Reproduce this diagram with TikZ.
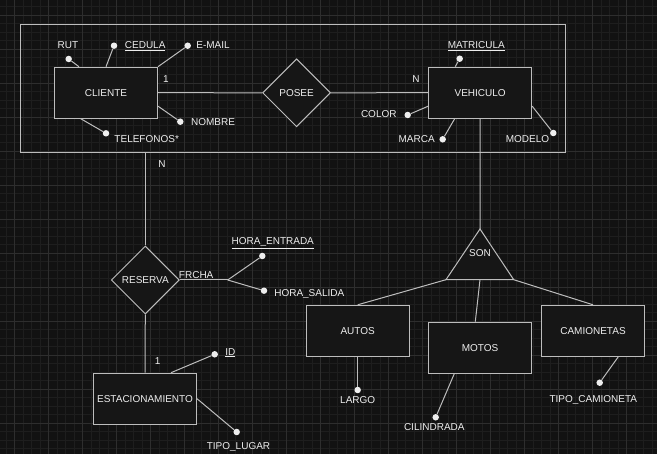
\documentclass[tikz,border=0pt]{standalone}
\usepackage{fontspec}
\setmainfont{Liberation Sans}
\usetikzlibrary{shapes.geometric}
\definecolor{bgc}{HTML}{121212}
\definecolor{gmin}{HTML}{1E1E1E}
\definecolor{gmaj}{HTML}{2E2E2E}
\definecolor{lc}{HTML}{BDBDBD}
\definecolor{tc}{HTML}{EEEEEE}
\definecolor{nf}{HTML}{161616}
\begin{document}
\begin{tikzpicture}[x=1pt,y=-1pt, font=\fontsize{10}{12}\selectfont,
 ent/.style={draw=lc, line width=1pt, fill=nf, text=tc, minimum width=103pt, minimum height=51pt, inner sep=0pt},
 rel/.style={draw=lc, line width=1pt, fill=nf, text=tc, diamond, minimum width=68pt, minimum height=68pt, inner sep=0pt},
 dotn/.style={circle, fill=tc, draw=none, minimum size=6.5pt, inner sep=0pt},
 lbl/.style={text=tc, inner sep=0pt, anchor=base},
 conn/.style={draw=lc, line width=1pt},
]
\useasboundingbox (0,0) rectangle (657,454);
\fill[bgc] (0,0) rectangle (657,454);
% grid
\foreach \i in {0,...,76} {\pgfmathsetmacro\gx{6.2+8.5*\i}\draw[gmin, line width=0.7pt] (\gx,0) -- (\gx,454);}
\foreach \i in {0,...,52} {\pgfmathsetmacro\gy{6.8+8.5*\i}\draw[gmin, line width=0.7pt] (0,\gy) -- (657,\gy);}
\foreach \i in {0,...,19} {\pgfmathsetmacro\gx{14.7+34*\i}\draw[gmaj, line width=0.9pt] (\gx,0) -- (\gx,454);}
\foreach \i in {0,...,13} {\pgfmathsetmacro\gy{15.3+34*\i}\draw[gmaj, line width=0.9pt] (0,\gy) -- (657,\gy);}

% aggregation frame
\node[draw=lc, line width=1pt, minimum width=545pt, minimum height=128pt, inner sep=0pt] (agg) at (293.2,88.3) {};

% entities and relationships
\node[ent] (cli) at (106,92.7) {CLIENTE};
\node[rel] (posee) at (296.6,92.8) {POSEE};
\node[ent] (veh) at (480.2,92.7) {VEHICULO};
\node[rel] (res) at (145.3,280) {RESERVA};
\node[ent] (est) at (145,398.7) {ESTACIONAMIENTO};
\node[ent] (autos) at (357.7,330.8) {AUTOS};
\node[ent] (motos) at (480,347.7) {MOTOS};
\node[ent] (cam) at (593,330.8) {CAMIONETAS};

% specialisation triangle
\coordinate (sona) at (480,229);
\coordinate (sonl) at (446,279.7);
\coordinate (sonr) at (513.7,279.7);
\coordinate (sonm) at (480,279.7);
\filldraw[draw=lc, fill=nf, line width=1pt, line join=miter] (sona) -- (sonr) -- (sonl) -- cycle;
\node[text=tc] (son) at (480,253.3) {SON};

% junction of RESERVA attributes
\coordinate (jn) at (227.7,280);

% attribute dots
\node[dotn] (drut) at (68.7,59) {};
\node[dotn] (dced) at (114,45.7) {};
\node[dotn] (dmail) at (187.7,45.7) {};
\node[dotn] (dnom) at (180.3,121.7) {};
\node[dotn] (dtel) at (106,133.3) {};
\node[dotn] (dmat) at (459.7,58.7) {};
\node[dotn] (dcol) at (407.7,115) {};
\node[dotn] (dmar) at (442.7,139.3) {};
\node[dotn] (dmod) at (553.3,133) {};
\node[dotn] (dhe) at (262.3,256) {};
\node[dotn] (dhs) at (264,290.7) {};
\node[dotn] (did) at (214.7,354.3) {};
\node[dotn] (dtl) at (236.7,432) {};
\node[dotn] (dlar) at (357.7,390) {};
\node[dotn] (dcil) at (435.7,417.3) {};
\node[dotn] (dtip) at (599.7,382.7) {};

% attribute labels
\node[lbl] (trut) at (68,48.6) {RUT};
\node[lbl] (tced) at (145.2,48.9) {\underline{CEDULA}};
\node[lbl] (tmail) at (213,48.9) {E-MAIL};
\node[lbl] (tnom) at (213,125.9) {NOMBRE};
\node[lbl] (ttel) at (146.7,142.6) {TELEFONOS*};
\node[lbl] (tmat) at (476.3,48.6) {\underline{MATRICULA}};
\node[lbl] (tcol) at (378.8,117.3) {COLOR};
\node[lbl] (tmar) at (416.7,142.9) {MARCA};
\node[lbl] (tmod) at (527.5,142.9) {MODELO};
\node[lbl] (the) at (272.8,244.9) {\underline{HORA\_ENTRADA}};
\node[lbl] (ths) at (309.3,296.3) {HORA\_SALIDA};
\node[lbl] (tid) at (230.3,355.3) {\underline{ID}};
\node[lbl] (ttl) at (238.5,449.3) {TIPO\_LUGAR};
\node[lbl] (tlar) at (357.7,403.9) {LARGO};
\node[lbl] (tcil) at (434.3,430.3) {CILINDRADA};
\node[lbl] (ttip) at (593.3,402.3) {TIPO\_CAMIONETA};
\node[lbl] (tfr) at (196.2,278.6) {FRCHA};

% cardinalities
\node[lbl] (c1) at (166,82.6) {1};
\node[lbl] (c2) at (416,82.6) {N};
\node[lbl] (c3) at (162,167.9) {N};
\node[lbl] (c4) at (157.7,364.3) {1};

% connectors
\draw[conn] (cli.east) -- (posee.west);
\draw[conn] (posee.east) -- (veh.west);
\draw[conn] (veh.south) -- (sona);
\draw[conn] (res.north) -- (res.north |- agg.south);
\draw[conn] (res.south) -- (est.north);
\draw[conn] (res.east) -- (jn);
\draw[conn] (jn) -- (dhe);
\draw[conn] (jn) -- (dhs);
\draw[conn] (sonl) -- (autos.north);
\draw[conn] (sonm) -- ([xshift=-4.7pt]motos.north);
\draw[conn] (sonr) -- (cam.north);

\draw[conn] (drut) -- ([xshift=25pt]cli.north west);
\draw[conn] (dced) -- (cli.north);
\draw[conn] (dmail) -- (cli.north east);
\draw[conn] (dnom) -- ([yshift=-13.5pt]cli.east);
\draw[conn] (dtel) -- ([xshift=26.7pt]cli.south west);
\draw[conn] (dmat) -- ([xshift=-25pt]veh.north);
\draw[conn] (dcol) -- ([yshift=-13.5pt]veh.west);
\draw[conn] (dmar) -- ([xshift=-25.5pt]veh.south);
\draw[conn] (dmod) -- ([yshift=-13.5pt]veh.east);
\draw[conn] (dlar) -- (autos.south);
\draw[conn] (dcil) -- ([xshift=-25.7pt]motos.south);
\draw[conn] (dtip) -- ([xshift=25.3pt]cam.south);
\draw[conn] (did) -- ([xshift=26pt]est.north);
\draw[conn] (dtl) -- (est.east);
\end{tikzpicture}
\end{document}
